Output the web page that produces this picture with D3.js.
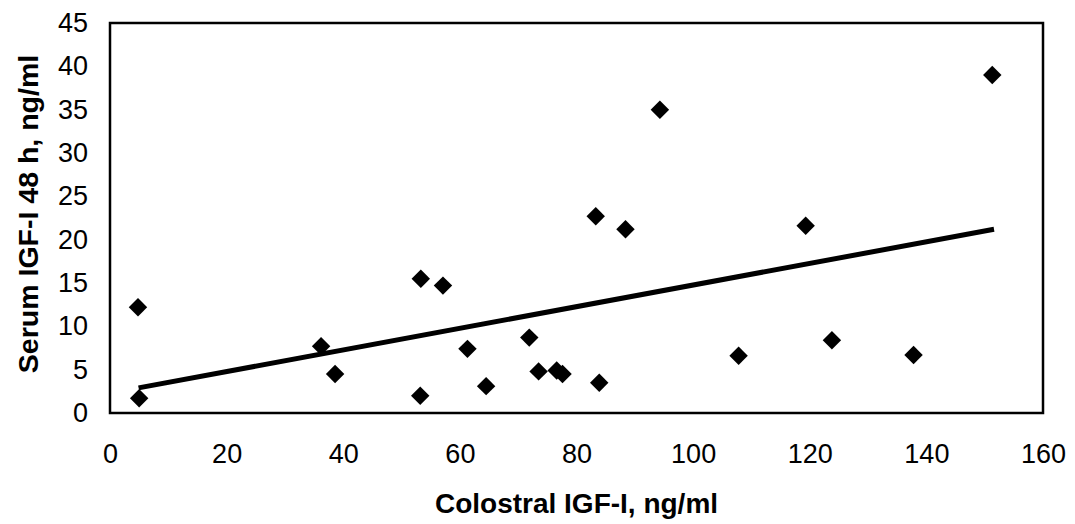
<!DOCTYPE html>
<html lang="en">
<head>
    <meta charset="UTF-8">
    <title>Colostral vs serum IGF-I</title>
    <script src="https://d3js.org/d3.v7.min.js"></script>
    <style>
        body { margin: 0; background: #fff; }
        text { font-family: "Liberation Sans", Arial, sans-serif; fill: #000; }
    </style>
</head>
<body>
<div id="chart-container"></div>
<script>
    // Colostral IGF-I (x) and serum IGF-I at 48 h (y), ng/ml
    const colostral = [4.8, 5.0, 36.2, 38.6, 53.3, 57.1, 53.2, 61.3, 64.5, 71.9, 73.5,
                       76.6, 77.6, 83.9, 83.3, 88.4, 94.3, 107.8, 119.3, 123.8, 137.8, 151.3];
    const serum48h  = [12.2, 1.7, 7.7, 4.5, 15.5, 14.7, 2.0, 7.4, 3.1, 8.7, 4.8,
                       4.9, 4.5, 3.5, 22.7, 21.2, 35.0, 6.6, 21.6, 8.4, 6.7, 39.0];

    // linear trend line end points
    const trendX = [4.9, 151.6];
    const trendY = [2.9, 21.2];

    const xTicks = [0, 20, 40, 60, 80, 100, 120, 140, 160];
    const yTicks = [0, 5, 10, 15, 20, 25, 30, 35, 40, 45];

    const width = 1075, height = 524;
    const plotLeft = 110, plotRight = 1043, plotTop = 23, plotBottom = 413;

    const svg = d3.select("#chart-container")
        .append("svg")
        .attr("width", width)
        .attr("height", height);

    const x = d3.scaleLinear().domain([0, 160]).range([plotLeft, plotRight]);
    const y = d3.scaleLinear().domain([0, 45]).range([plotBottom, plotTop]);

    // x axis labels
    svg.append("g")
        .attr("transform", `translate(0,${plotBottom})`)
        .call(d3.axisBottom(x).tickValues(xTicks).tickSize(0).tickPadding(31))
        .call(g => g.select(".domain").remove())
        .selectAll("text")
        .style("font-size", "27px");

    // y axis labels
    svg.append("g")
        .attr("transform", `translate(${plotLeft},0)`)
        .call(d3.axisLeft(y).tickValues(yTicks).tickSize(0).tickPadding(22))
        .call(g => g.select(".domain").remove())
        .selectAll("text")
        .style("font-size", "27px");

    // plot frame
    svg.append("rect")
        .attr("x", x(0))
        .attr("y", y(45))
        .attr("width", x(160) - x(0))
        .attr("height", y(0) - y(45))
        .attr("fill", "none")
        .attr("stroke", "#000")
        .attr("stroke-width", 2.5);

    // trend line
    svg.append("line")
        .attr("x1", x(trendX[0]))
        .attr("y1", y(trendY[0]))
        .attr("x2", x(trendX[1]))
        .attr("y2", y(trendY[1]))
        .attr("stroke", "#000")
        .attr("stroke-width", 5);

    // diamonds
    const diamond = d3.symbol().type(d3.symbolSquare).size(170);
    svg.append("g")
        .selectAll("path")
        .data(colostral.map((c, i) => [c, serum48h[i]]))
        .enter()
        .append("path")
        .attr("d", diamond)
        .attr("transform", d => `translate(${x(d[0])},${y(d[1])}) rotate(45)`)
        .attr("fill", "#000");

    svg.append("text")
        .attr("x", (plotLeft + plotRight) / 2)
        .attr("y", 513)
        .attr("text-anchor", "middle")
        .style("font-size", "28px")
        .style("font-weight", "bold")
        .text("Colostral IGF-I, ng/ml");

    svg.append("text")
        .attr("transform", "translate(38,214) rotate(-90)")
        .attr("text-anchor", "middle")
        .style("font-size", "28.5px")
        .style("font-weight", "bold")
        .text("Serum IGF-I 48 h, ng/ml");
</script>
</body>
</html>
